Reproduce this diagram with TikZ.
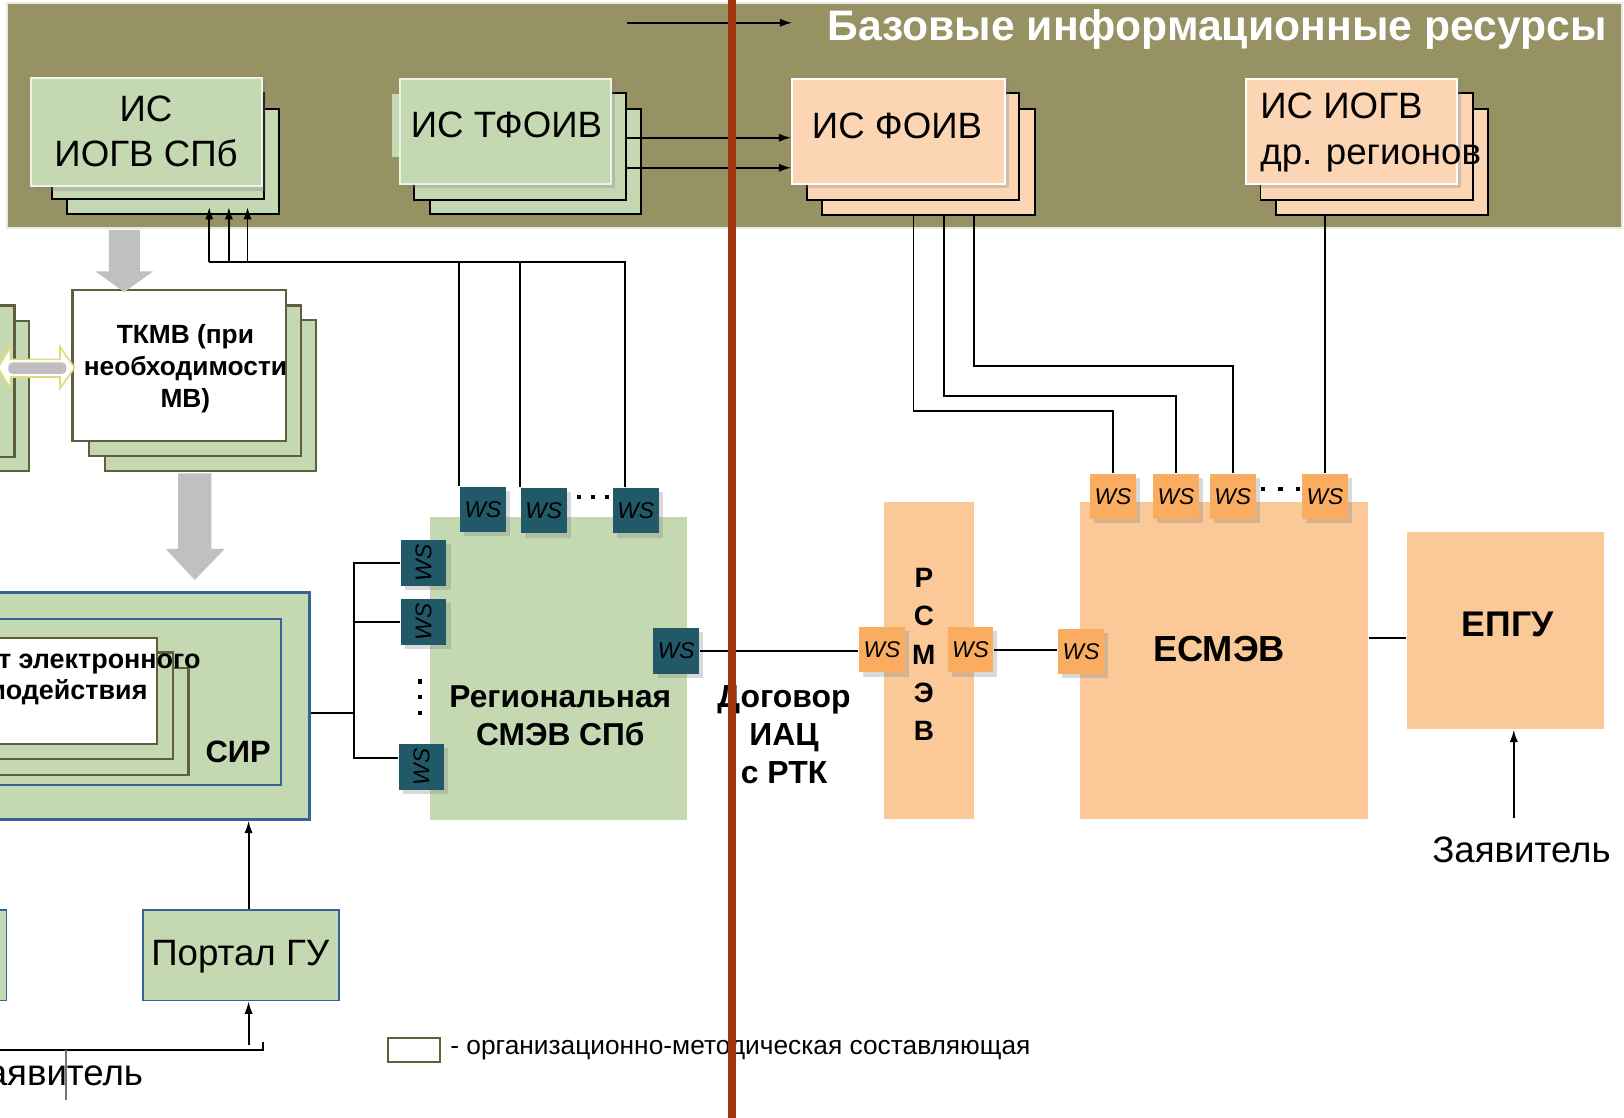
\documentclass[tikz,border=0pt]{standalone}
\usepackage{fontspec}
\setmainfont{Liberation Sans}
\usetikzlibrary{arrows.meta, fit, calc, shadows}
\tikzset{>={Latex[width=4pt,length=6pt]}}
\newcommand{\txtsize}[2]{\fontsize{#1}{#2}\selectfont}

\definecolor{bandol}{RGB}{150,146,100}
\definecolor{sage}{RGB}{196,216,178}
\definecolor{peachl}{RGB}{252,214,180}
\definecolor{peach}{RGB}{251,201,152}
\definecolor{wsor}{RGB}{250,172,96}
\definecolor{wsteal}{RGB}{33,89,104}
\definecolor{olivedk}{RGB}{95,95,62}
\definecolor{sirblue}{RGB}{54,98,150}
\definecolor{divred}{RGB}{160,52,12}
\definecolor{arrgray}{RGB}{192,192,192}

\tikzset{
  soft/.style={drop shadow={shadow xshift=2pt, shadow yshift=-2pt, opacity=0.3}},
  back/.style={inner sep=0pt, fill=sage, draw=black, line width=0.9pt},
  backp/.style={back, fill=peachl},
  backg/.style={inner sep=0pt, fill=sage, draw=olivedk, line width=1pt},
  front/.style={inner sep=0pt, fill=sage, draw=white!70!sage, line width=1pt, soft},
  frontp/.style={front, fill=peachl, draw=white},
  plain/.style={inner sep=0pt, fill=#1},
  sirbox/.style={inner sep=0pt, fill=sage, draw=sirblue, line width=#1},
  ws/.style={inner sep=0pt, minimum size=22pt, fill=wsteal, font=\txtsize{11}{13}\itshape, soft},
  wso/.style={ws, fill=wsor},
  lbl/.style={font=\txtsize{17.7}{21.5}}
}

\begin{document}
\begin{tikzpicture}[x=0.5pt, y=-0.5pt, line width=0.9pt]
\useasboundingbox (0,0) rectangle (1568,1079);
\clip (0,0) rectangle (1568,1079);

% base resources band
\node[inner sep=0pt, fill=bandol, draw=white!80!bandol, line width=1.2pt, fit={(7,3) (1566,220)}] (band) {};
\node[anchor=west, inner sep=0pt, text=white, font=\txtsize{20.6}{25}\bfseries] (title) at (798,28) {Базовые информационные ресурсы};
\coordinate (tarr) at (605,22);
\draw[->] (tarr) -- ([xshift=-16.5pt]title.west |- tarr);

\node[back, fit={(65,105) (269,207)}] (ib2) {};
\node[back, fit={(50,90) (255,192)}] (ib1) {};
\node[front, fit={(30,75) (253,180)}] (iogv) {};
\node[lbl, align=center] (iogvt) at (141,127) {ИС\\ИОГВ СПб};

\node[back, fit={(415,105) (619,207)}] (tb2) {};
\node[back, fit={(400,90) (604,193)}] (tb1) {};
\fill[sage] (378,91) rectangle (388,152);
\node[front, fit={(386,76) (590,178)}] (tfoiv) {};
\node[lbl] (tfoivt) at (489,121) {ИС ТФОИВ};

\node[backp, fit={(794,105) (999,207.6)}] (fb2) {};
\node[backp, fit={(779,90) (984,193)}] (fb1) {};
\node[frontp, fit={(765,76) (970,178)}] (foiv) {};
\node[lbl, anchor=west, inner sep=0pt] (foivt) at (783,122) {ИС ФОИВ};

\node[backp, fit={(1232,105) (1437,207.6)}] (rb2) {};
\node[backp, fit={(1217,90) (1422,193)}] (rb1) {};
\node[frontp, fit={(1202.6,76) (1407,178)}] (iogvr) {};
\node[lbl, anchor=west, align=left, inner sep=0pt, font=\txtsize{17.7}{22.5}] (iogvrt) at (1216,128) {ИС ИОГВ\\др. регионов};

\draw[->] (tb1.east |- 0,133) -- (foiv.west |- 0,133);
\draw[->] (tb1.east |- 0,162) -- (foiv.west |- 0,162);

% TKMV
\node[backg, fit={(-30,310) (28,455)}] (lb2) {};
\node[backg, fit={(-30,295) (14,441)}] (lb1) {};
\node[backg, fit={(101,309) (305,455)}] (kb2) {};
\node[backg, fit={(86,295) (291,440)}] (kb1) {};
\node[backg, fill=white, fit={(70,280) (276,426)}] (tkmv) {};
\node[font=\txtsize{12.7}{15.5}\bfseries, align=center] (tkmvt) at (179,356) {ТКМВ (при\\необходимости\\МВ)};

\fill[arrgray] (105,222) -- (135,222) -- (135,262) -- (148,262) -- (120,282) -- (92,262) -- (105,262) -- cycle;
\fill[arrgray] (172,457) -- (204,457) -- (204,530) -- (217,530) -- (188,560) -- (160,530) -- (172,530) -- cycle;
\filldraw[fill=white, draw=yellow!40!olive!45, line width=0.8pt] (-2,355) -- (10,335) -- (10,347) -- (58,347) -- (58,335) -- (72,355) -- (58,375) -- (58,364) -- (10,364) -- (10,375) -- cycle;
\fill[black!25, rounded corners=2pt] (8,350) rectangle (64,361);

% SIR
\node[sirbox=1.4pt, fit={(-20,572) (299,791)}] (sir) {};
\node[sirbox=1pt, fit={(-20,598) (271,758)}] (sirin) {};
\node[backg, fit={(-20,645) (182,748)}] (eb2) {};
\node[backg, fit={(-20,630) (167,733)}] (eb1) {};
\node[backg, fill=white, fit={(-20,616) (152,718.5)}] (regl) {};
\node[font=\txtsize{13}{15}\bfseries, align=center] (reglt) at (35,654) {Регламент электронного\\взаимодействия};
\node[font=\txtsize{14.9}{18}\bfseries] (sirt) at (230,726) {СИР};

\node[sirbox=0.8pt, fit={(-20,878.6) (6.4,966)}] (lp) {};
\node[sirbox=0.8pt, fit={(137.8,878.6) (327.6,966)}] (portal) {};
\node[lbl] (portalt) at (232,924) {Портал ГУ};
\draw[->] (portal.north -| 240,0) -- (sir.south -| 240,0);
\coordinate (bl) at (-10,1014);
\coordinate (br) at (254,1014);
\coordinate (pa) at (240,1009);
\draw (bl) -- (br) -- ++(0,-8);
\draw[->] (pa) -- (portal.south -| pa);
\draw[black!55] (64,1014) -- (64,1062);
\node[lbl, anchor=base east, inner sep=0pt] (zl) at (139,1048) {Заявитель};

% regional SMEV
\node[plain=sage, fit={(415,499) (663,791.7)}] (rsmev) {};
\node[font=\txtsize{15.3}{18.5}\bfseries, align=center] (rsmevt) at (541,691) {Региональная\\СМЭВ СПб};
\node[ws] (wst1) at (466.3,492) {WS};
\node[ws] (wst2) at (525,493) {WS};
\node[ws] (wst3) at (613.8,493) {WS};
\node[ws] (wsl1) at (409,543.5) {\rotatebox{90}{WS}};
\node[ws] (wsl2) at (409,600.5) {\rotatebox{90}{WS}};
\node[ws] (wsl3) at (407,740.6) {\rotatebox{90}{WS}};
\node[ws] (wsr) at (652.9,628.6) {WS};
\foreach \x in {559.4,572.9,585.8} \fill (\x-2,477.6) rectangle ++(4,4);
\foreach \y in {658,672.6,688} \fill (403.5,\y-2) rectangle ++(4,4);

\coordinate (w3) at ($(wst3.north west)!0.28!(wst3.north east)$);
\foreach \x in {202,221,239} \draw[->] (\x,253) -- ([yshift=4pt]ib2.south -| \x,0);
\draw (202,253) -- (w3 |- 0,253) -- (w3);
\draw (wst1.north west) -- (wst1.north west |- 0,253);
\draw (wst2.north west) -- (wst2.north west |- 0,253);

\coordinate (bt) at (342,543.5);
\coordinate (bb) at (342,731.5);
\draw (wsl1.west) -- (bt) -- (bb) -- (wsl3.west |- bb);
\draw (wsl2.west) -- (wsl2.west -| bt);
\draw (sir.east |- 0,688) -- (bt |- 0,688);

% RSMEV, ESMEV, EPGU
\node[plain=peach, fit={(853.5,484.7) (940.5,791)}] (rsm) {};
\node[font=\txtsize{13.5}{18.5}\bfseries, align=center] (rsmt) at (892,632) {Р\\С\\М\\Э\\В};
\node[wso] (wsp1) at (851.6,627.3) {WS};
\node[wso] (wsp2) at (937,627.3) {WS};
\draw (wsr.east) -- (wsp1.west |- wsr.east);

\node[plain=peach, fit={(1042.6,484.7) (1320.6,791)}] (esm) {};
\node[font=\txtsize{17.5}{21}\bfseries] (esmt) at (1177,627) {ЕСМЭВ};
\node[wso] (wse0) at (1043.8,629) {WS};
\node[wso] (wse1) at (1074.6,479.4) {WS};
\node[wso] (wse2) at (1135.3,479.4) {WS};
\node[wso] (wse3) at (1190.3,479.4) {WS};
\node[wso] (wse4) at (1279.2,479.4) {WS};
\foreach \x in {1219.3,1236.3,1253.3} \fill (\x-2,470.5) rectangle ++(4,4);
\draw (wsp2.east) -- (wse0.west |- wsp2.east);

\draw (fb2.south -| 882,0) |- (wse1.north |- 0,397) -- (wse1.north);
\draw (fb2.south -| 911.5,0) |- (wse2.north |- 0,382.4) -- (wse2.north);
\draw (fb2.south -| 940.4,0) |- (wse3.north |- 0,353) -- (wse3.north);
\draw (rb2.south -| wse4.north) -- (wse4.north);

\node[plain=peach, fit={(1358.5,513.6) (1549,703.6)}] (epgu) {};
\node[font=\txtsize{17.2}{21}\bfseries] (epgut) at (1455.5,603) {ЕПГУ};
\draw (esm.east |- 0,615.7) -- (epgu.west |- 0,615.7);
\node[lbl] (zr) at (1469,821) {Заявитель};
\coordinate (za) at (1461.6,790);
\draw[->] (za) -- (epgu.south -| za);

\node[font=\txtsize{15.4}{18.25}\bfseries, align=center] (dog) at (757,709.5) {Договор\\ИАЦ\\с РТК};

% legend
\node[inner sep=0pt, fill=white, draw=olivedk, line width=1pt, fit={(375,1002) (425,1025.6)}] (leg) {};
\node[anchor=west, inner sep=0pt, font=\txtsize{12.7}{15}] (legt) at (434,1014) {- организационно-методическая составляющая};

% boundary
\coordinate (rt) at (707,-5);
\coordinate (rb) at (707,1085);
\draw[divred, line width=4pt] (rt) -- (rb);
\end{tikzpicture}
\end{document}
